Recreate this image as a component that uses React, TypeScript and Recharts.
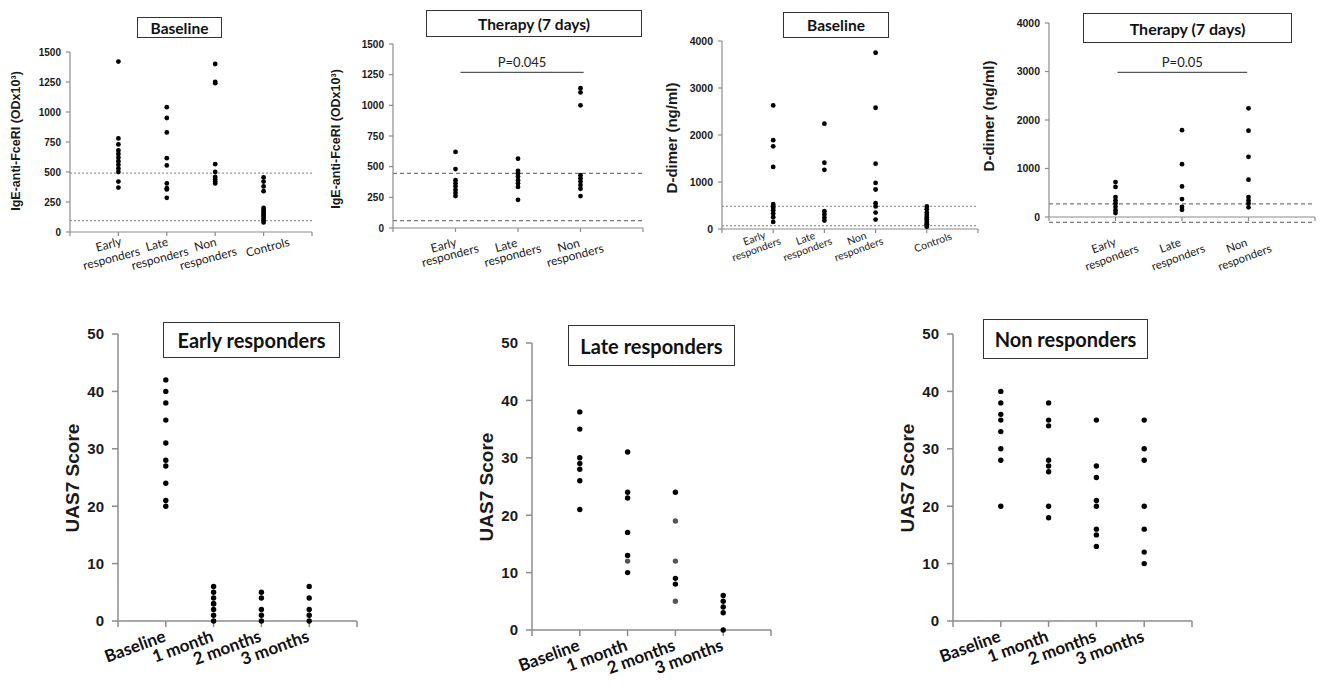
import React from 'react';
import { ScatterChart, Scatter, XAxis, YAxis, ReferenceLine } from 'recharts';

// ---------- Top row: category labels ----------
const topCats4 = [['Early', 'responders'], ['Late', 'responders'], ['Non', 'responders'], ['Controls']];
const topCats3 = [['Early', 'responders'], ['Late', 'responders'], ['Non', 'responders']];
const timeCats = [['Baseline'], ['1 month'], ['2 months'], ['3 months']];

// ---------- Panel 1: IgE-anti-FceRI, Baseline ----------
const igeBaseEarly = [1420, 780, 730, 680, 650, 620, 590, 560, 530, 500, 420, 370];
const igeBaseLate = [1040, 950, 830, 615, 555, 405, 365, 355, 285];
const igeBaseNon = [1400, 1250, 1240, 565, 500, 460, 440, 420, 405];
const igeBaseControls = [455, 420, 380, 340, 200, 185, 170, 155, 140, 125, 110, 95, 80];
const igeBaseRefs = [490, 95];

// ---------- Panel 2: IgE-anti-FceRI, Therapy (7 days) ----------
const igeTherEarly = [620, 480, 390, 365, 340, 310, 285, 260];
const igeTherLate = [565, 465, 445, 420, 390, 365, 335, 230];
const igeTherNon = [1140, 1105, 1000, 430, 405, 380, 350, 320, 260];
const igeTherRefs = [445, 60];
const igeTherP = { label: 'P=0.045', y: 1268, from: 1.08, to: 3.05 };

// ---------- Panel 3: D-dimer, Baseline ----------
const ddBaseEarly = [2630, 1890, 1760, 1320, 530, 490, 450, 400, 330, 250, 150];
const ddBaseLate = [2240, 1410, 1260, 380, 310, 240, 180];
const ddBaseNon = [3750, 2580, 1390, 980, 840, 550, 480, 350, 200];
const ddBaseControls = [480, 420, 350, 300, 250, 210, 170, 130, 100, 70, 50];
const ddBaseRefs = [480, 70];

// ---------- Panel 4: D-dimer, Therapy (7 days) ----------
const ddTherEarly = [720, 620, 410, 340, 280, 210, 140, 80];
const ddTherLate = [1790, 1090, 630, 370, 210, 150];
const ddTherNon = [2240, 1780, 1240, 770, 410, 340, 280, 200];
const ddTherRefs = [270, -110];
const ddTherP = { label: 'P=0.05', y: 2980, from: 1.03, to: 2.98 };

// ---------- Bottom row: UAS7 ----------
const earlyBaseline = [42, 40, 38, 35, 31, 28, 27, 24, 21, 20];
const early1m = [6, 5, 4, 3, 3, 2, 1, 0];
const early2m = [5, 4, 2, 1, 0];
const early3m = [6, 4, 2, 1, 0];

const lateBaseline = [38, 35, 30, 29, 28, 26, 21];
const late1m = [31, 24, 23, 17, 13, 10];
const late1mGray = [12];
const late2m = [24, 9, 8];
const late2mGray = [19, 12, 5];
const late3m = [6, 5, 4, 3, 0];

const nonBaseline = [40, 38, 36, 35, 33, 30, 28, 20];
const non1m = [38, 35, 34, 28, 27, 26, 20, 18];
const non2m = [35, 27, 25, 21, 20, 16, 15, 13];
const non3m = [35, 30, 28, 20, 16, 12, 10];

const igeTicks = [0, 250, 500, 750, 1000, 1250, 1500];
const ddTicks = [0, 1000, 2000, 3000, 4000];
const uasTicks = [0, 10, 20, 30, 40, 50];

type Pt = { x: number; y: number };
const toPts = (groups: number[][]): Pt[] =>
  groups.flatMap((vals, i) => vals.map((v) => ({ x: i + 1, y: v })));

const AXIS = '#8c8c8c';
const ARIAL = '"Liberation Sans", Arial, sans-serif';
const CAL = 'Lato, "Open Sans", sans-serif';

type LabelCfg = {
  mode: 'top' | 'bottom';
  l1?: [number, number];
  l2?: [number, number];
  single?: [number, number];
  rot: number;
  font: number;
  bold?: boolean;
};

const makeTick = (cats: string[][], cfg: LabelCfg, tickOff: number) => (props: any) => {
  const { x, y, payload } = props;
  const idx = Math.round(payload.value) - 1;
  const ls = cats[idx];
  if (!ls) return <g />;
  const axisY = y - tickOff;
  if (cfg.mode === 'bottom') {
    const ax = x + 1;
    const ay = axisY + 20;
    return (
      <text
        x={ax}
        y={ay}
        textAnchor="end"
        transform={`rotate(${cfg.rot} ${ax} ${ay})`}
        fontFamily={CAL}
        fontWeight="bold"
        fontSize={cfg.font}
        fill="#111"
      >
        {ls[0]}
      </text>
    );
  }
  const offs = ls.length === 1 ? [cfg.single!] : [cfg.l1!, cfg.l2!];
  return (
    <g>
      {ls.map((t, i) => {
        const cx = x + offs[i][0];
        const cy = axisY + offs[i][1];
        return (
          <text
            key={i}
            x={cx}
            y={cy}
            textAnchor="middle"
            dominantBaseline="central"
            transform={`rotate(${cfg.rot} ${cx} ${cy})`}
            fontFamily={CAL}
            fontSize={cfg.font}
            fill="#222"
          >
            {t}
          </text>
        );
      })}
    </g>
  );
};

type Rect = { x0: number; y0: number; x1: number; y1: number };

type PanelProps = {
  rect: Rect;
  xMax: number;
  yDomain: [number, number];
  yTicks: number[];
  groups: number[][];
  grayGroups?: number[][];
  cats: string[][];
  labelCfg: LabelCfg;
  yTickFont: number;
  refLines?: number[];
  refDash?: string;
  refColor?: string;
  pLine?: { label: string; y: number; from: number; to: number };
  dotR: number;
  tickSize: number;
  yTickSize: number;
  yTickMargin: number;
  axisWidth: number;
};

function Panel(p: PanelProps) {
  const YW = 70, MT = 12, MR = 5, XH = 70;
  const left = p.rect.x0 - YW;
  const top = p.rect.y0 - MT;
  const width = p.rect.x1 - p.rect.x0 + YW + MR;
  const height = p.rect.y1 - p.rect.y0 + MT + XH;
  const xTicks = Array.from({ length: p.xMax + 1 }, (_, i) => i);
  const pts = toPts(p.groups);
  const grayPts = p.grayGroups ? toPts(p.grayGroups) : [];
  return (
    <div style={{ position: 'absolute', left, top, width, height }}>
      <ScatterChart width={width} height={height} margin={{ top: MT, right: MR, bottom: 0, left: 0 }}>
        <XAxis
          type="number"
          dataKey="x"
          domain={[0, p.xMax]}
          ticks={xTicks}
          interval={0}
          height={XH}
          tickSize={p.tickSize}
          tickMargin={0}
          axisLine={{ stroke: AXIS, strokeWidth: p.axisWidth }}
          tickLine={{ stroke: AXIS, strokeWidth: p.axisWidth }}
          tick={makeTick(p.cats, p.labelCfg, p.tickSize)}
        />
        <YAxis
          type="number"
          dataKey="y"
          domain={p.yDomain}
          ticks={p.yTicks}
          interval={0}
          width={YW}
          tickSize={p.yTickSize}
          tickMargin={p.yTickMargin}
          axisLine={{ stroke: AXIS, strokeWidth: p.axisWidth }}
          tickLine={{ stroke: AXIS, strokeWidth: p.axisWidth }}
          tick={{ fontFamily: ARIAL, fontWeight: 'bold', fontSize: p.yTickFont, fill: '#1a1a1a' }}
        />
        {(p.refLines || []).map((v, i) => (
          <ReferenceLine
            key={i}
            y={v}
            stroke={p.refColor || '#999'}
            strokeWidth={1.2}
            strokeDasharray={p.refDash || '2 2'}
            ifOverflow="visible"
          />
        ))}
        {p.pLine && (
          <ReferenceLine
            segment={[
              { x: p.pLine.from, y: p.pLine.y },
              { x: p.pLine.to, y: p.pLine.y },
            ]}
            stroke="#555"
            strokeWidth={1.2}
            ifOverflow="visible"
            label={{ value: p.pLine.label, position: 'top', offset: 5, fill: '#222', fontSize: 13, fontFamily: CAL }}
          />
        )}
        <Scatter
          data={pts}
          isAnimationActive={false}
          shape={(s: any) => <circle cx={s.cx} cy={s.cy} r={p.dotR} fill="#000" />}
        />
        {grayPts.length > 0 && (
          <Scatter
            data={grayPts}
            isAnimationActive={false}
            shape={(s: any) => <circle cx={s.cx} cy={s.cy} r={p.dotR} fill="#555" />}
          />
        )}
      </ScatterChart>
    </div>
  );
}

function Title({ x0, y0, x1, y1, text, size, border }: { x0: number; y0: number; x1: number; y1: number; text: string; size: number; border: number }) {
  return (
    <div
      style={{
        position: 'absolute',
        left: x0,
        top: y0,
        width: x1 - x0,
        height: y1 - y0,
        boxSizing: 'border-box',
        border: `${border}px solid #333`,
        background: '#fff',
        display: 'flex',
        alignItems: 'center',
        justifyContent: 'center',
        fontFamily: CAL,
        fontWeight: 'bold',
        fontSize: size,
        color: '#111',
        whiteSpace: 'nowrap',
      }}
    >
      {text}
    </div>
  );
}

function YLabel({ cx, cy, text, size }: { cx: number; cy: number; text: string; size: number }) {
  return (
    <div
      style={{
        position: 'absolute',
        left: cx,
        top: cy,
        transform: 'translate(-50%, -50%) rotate(-90deg)',
        whiteSpace: 'nowrap',
        fontFamily: ARIAL,
        fontWeight: 'bold',
        fontSize: size,
        color: '#1a1a1a',
        lineHeight: 1,
      }}
    >
      {text}
    </div>
  );
}

const topSmall = { tickSize: 4, yTickSize: 4, yTickMargin: 5, axisWidth: 1.2, dotR: 2.4 };
const bottomCommon = { tickSize: 6, yTickSize: 6, yTickMargin: 8, axisWidth: 1.5, dotR: 2.7 };
const bottomLabel: LabelCfg = { mode: 'bottom', rot: -20, font: 17 };

export default function App() {
  return (
    <div style={{ position: 'absolute', left: 0, top: 0, width: 1320, height: 687, background: '#fff', overflow: 'hidden' }}>
      {/* Panel 1 */}
      <Panel
        rect={{ x0: 70, y0: 52, x1: 312, y1: 232 }}
        xMax={5}
        yDomain={[0, 1500]}
        yTicks={igeTicks}
        groups={[igeBaseEarly, igeBaseLate, igeBaseNon, igeBaseControls]}
        cats={topCats4}
        labelCfg={{ mode: 'top', l1: [-10, 12], l2: [-7, 26], single: [4, 15], rot: -15, font: 12 }}
        yTickFont={10}
        refLines={igeBaseRefs}
        refDash="2 2"
        refColor="#999"
        {...topSmall}
      />
      <Title x0={137} y0={17} x1={222} y1={38} text="Baseline" size={15.5} border={1} />
      <YLabel cx={16} cy={141} text="IgE-anti-FceRI (ODx10³)" size={12.5} />

      {/* Panel 2 */}
      <Panel
        rect={{ x0: 393, y0: 44, x1: 643, y1: 228 }}
        xMax={4}
        yDomain={[0, 1500]}
        yTicks={igeTicks}
        groups={[igeTherEarly, igeTherLate, igeTherNon]}
        cats={topCats3}
        labelCfg={{ mode: 'top', l1: [-12, 17], l2: [-5.5, 27], rot: -15, font: 12 }}
        yTickFont={10}
        refLines={igeTherRefs}
        refDash="4 3"
        refColor="#777"
        pLine={igeTherP}
        {...topSmall}
      />
      <Title x0={426} y0={10} x1={642} y1={37} text="Therapy (7 days)" size={15.5} border={1} />
      <YLabel cx={336} cy={139} text="IgE-anti-FceRI (ODx10³)" size={12.5} />

      {/* Panel 3 */}
      <Panel
        rect={{ x0: 722, y0: 41, x1: 978, y1: 229 }}
        xMax={5}
        yDomain={[0, 4000]}
        yTicks={ddTicks}
        groups={[ddBaseEarly, ddBaseLate, ddBaseNon, ddBaseControls]}
        cats={topCats4}
        labelCfg={{ mode: 'top', l1: [-19, 9], l2: [-17, 20], single: [6, 13], rot: -20, font: 10.5 }}
        yTickFont={10.5}
        refLines={ddBaseRefs}
        refDash="2 2"
        refColor="#999"
        {...topSmall}
      />
      <Title x0={783} y0={12} x1={889} y1={38} text="Baseline" size={15.5} border={1} />
      <YLabel cx={671} cy={138} text="D-dimer (ng/ml)" size={15} />

      {/* Panel 4 */}
      <Panel
        rect={{ x0: 1049, y0: 23, x1: 1315, y1: 217 }}
        xMax={4}
        yDomain={[0, 4000]}
        yTicks={ddTicks}
        groups={[ddTherEarly, ddTherLate, ddTherNon]}
        cats={topCats3}
        labelCfg={{ mode: 'top', l1: [-12, 28], l2: [-4, 40], rot: -20, font: 11.5 }}
        yTickFont={10.5}
        refLines={ddTherRefs}
        refDash="4 3"
        refColor="#777"
        pLine={ddTherP}
        {...topSmall}
      />
      <Title x0={1083} y0={13} x1={1292} y1={43} text="Therapy (7 days)" size={16} border={1} />
      <YLabel cx={988} cy={116} text="D-dimer (ng/ml)" size={15} />

      {/* Panel 5 */}
      <Panel
        rect={{ x0: 118, y0: 334, x1: 357, y1: 621 }}
        xMax={5}
        yDomain={[0, 50]}
        yTicks={uasTicks}
        groups={[earlyBaseline, early1m, early2m, early3m]}
        cats={timeCats}
        labelCfg={bottomLabel}
        yTickFont={15}
        {...bottomCommon}
      />
      <Title x0={163} y0={322} x1={340} y1={358} text="Early responders" size={20} border={1.5} />
      <YLabel cx={72} cy={478} text="UAS7 Score" size={19} />

      {/* Panel 6 */}
      <Panel
        rect={{ x0: 532, y0: 343, x1: 771, y1: 630 }}
        xMax={5}
        yDomain={[0, 50]}
        yTicks={uasTicks}
        groups={[lateBaseline, late1m, late2m, late3m]}
        grayGroups={[[], late1mGray, late2mGray, []]}
        cats={timeCats}
        labelCfg={bottomLabel}
        yTickFont={15}
        {...bottomCommon}
      />
      <Title x0={568} y0={325} x1={735} y1={366} text="Late responders" size={20} border={1.5} />
      <YLabel cx={486} cy={487} text="UAS7 Score" size={19} />

      {/* Panel 7 */}
      <Panel
        rect={{ x0: 953, y0: 334, x1: 1192, y1: 621 }}
        xMax={5}
        yDomain={[0, 50]}
        yTicks={uasTicks}
        groups={[nonBaseline, non1m, non2m, non3m]}
        cats={timeCats}
        labelCfg={bottomLabel}
        yTickFont={15}
        {...bottomCommon}
      />
      <Title x0={983} y0={319} x1={1148} y1={359} text="Non responders" size={20} border={1.5} />
      <YLabel cx={907} cy={478} text="UAS7 Score" size={19} />
    </div>
  );
}
